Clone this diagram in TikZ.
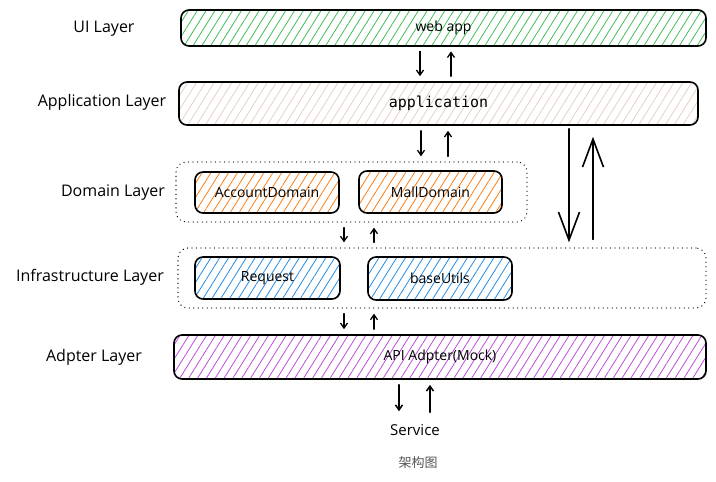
\documentclass[tikz,border=0pt]{standalone}
\usepackage{fontspec}
\setmainfont{Open Sans}
\setmonofont{DejaVu Sans Mono}
\newfontfamily\cjkfont{Noto Sans CJK SC}
\usetikzlibrary{arrows.meta,patterns.meta}
\definecolor{hatchgreen}{HTML}{40C057}
\definecolor{hatchbeige}{HTML}{E8CFC2}
\definecolor{hatchorange}{HTML}{FD7E14}
\definecolor{hatchblue}{HTML}{228BE6}
\definecolor{hatchpurple}{HTML}{BE4BDB}
\definecolor{captiongray}{HTML}{555555}
\tikzset{
  layerbox/.style={draw, line width=1.6pt, rounded corners=8pt,
    pattern={Lines[angle=58,distance=7.5pt,line width=0.8pt]}},
  groupbox/.style={draw, line width=1.3pt, rounded corners=10pt,
    dash pattern=on 0pt off 4.5pt, line cap=round},
  lbl/.style={inner sep=1pt},
  sidelbl/.style={inner sep=1pt, font=\fontsize{16}{18}\selectfont},
  smallarr/.style={-{Straight Barb[length=5pt,width=7pt]}, line width=1.3pt,
    shorten <=5pt, shorten >=5pt},
  bigarr/.style={-{Straight Barb[length=28pt,width=21pt]}, line width=1.6pt}
}
\begin{document}
\begin{tikzpicture}[x=1pt, y=-1pt, font=\fontsize{14}{16}\selectfont, line join=round, line cap=round]
  \useasboundingbox (0,0) rectangle (716,482);
  % layer names
  \node[sidelbl] (uil)  at (104,29)  {UI Layer};
  \node[sidelbl] (appl) at (102,102) {Application Layer};
  \node[sidelbl] (doml) at (113,193) {Domain Layer};
  \node[sidelbl] (infl) at (90,277)  {Infrastructure Layer};
  \node[sidelbl] (adpl) at (94,357)  {Adpter Layer};
  % layers
  \node[layerbox, pattern color=hatchgreen, minimum width=525pt, minimum height=36pt] (ui) at (443.5,28) {web app};
  \node[layerbox, pattern color=hatchbeige, minimum width=519pt, minimum height=43pt, font=\fontsize{15}{17}\ttfamily] (app) at (438.5,103.5) {application};
  \node[groupbox, minimum width=351pt, minimum height=60pt] (dom) at (351.5,192) {};
  \node[layerbox, pattern color=hatchorange, minimum width=144pt, minimum height=41pt] (acc) at (267,192.5) {AccountDomain};
  \node[layerbox, pattern color=hatchorange, minimum width=143pt, minimum height=42pt] (mall) at (430.5,192) {MallDomain};
  \node[groupbox, minimum width=528pt, minimum height=60pt] (infra) at (442,278) {};
  \node[layerbox, pattern color=hatchblue, minimum width=145pt, minimum height=42pt] (req) at (267.5,278) {Request};
  \node[layerbox, pattern color=hatchblue, minimum width=144pt, minimum height=43pt] (base) at (440,278.5) {baseUtils};
  \node[layerbox, pattern color=hatchpurple, minimum width=532pt, minimum height=44pt] (adp) at (440,357) {API Adpter(Mock)};
  \node[lbl, font=\fontsize{15}{17}\selectfont] (svc) at (415,430) {Service};
  \node[lbl, text=captiongray, font=\fontsize{13}{15}\cjkfont] (cap) at (418,463) {架构图};
  % calls between layers
  \foreach \s/\t/\xd/\xu in {ui/app/420/451, app/dom/421/448, dom/infra/344/374, infra/adp/344/374}{
    \draw[smallarr] (\xd,0 |- \s.south) -- (\xd,0 |- \t.north);
    \draw[smallarr] (\xu,0 |- \t.north) -- (\xu,0 |- \s.south);
  }
  \draw[smallarr, shorten >=12pt, line width=1.5pt] (399,0 |- adp.south) -- (399,0 |- svc.north);
  \draw[smallarr, shorten <=11pt, line width=1.5pt] (430,0 |- svc.north) -- (430,0 |- adp.south);
  % application straight to infrastructure
  \draw[bigarr, shorten <=3pt, shorten >=5pt] (569,0 |- app.south) -- (569,0 |- infra.north);
  \draw[bigarr, shorten <=8pt, shorten >=11pt] (593,0 |- infra.north) -- (593,0 |- app.south);
\end{tikzpicture}
\end{document}
